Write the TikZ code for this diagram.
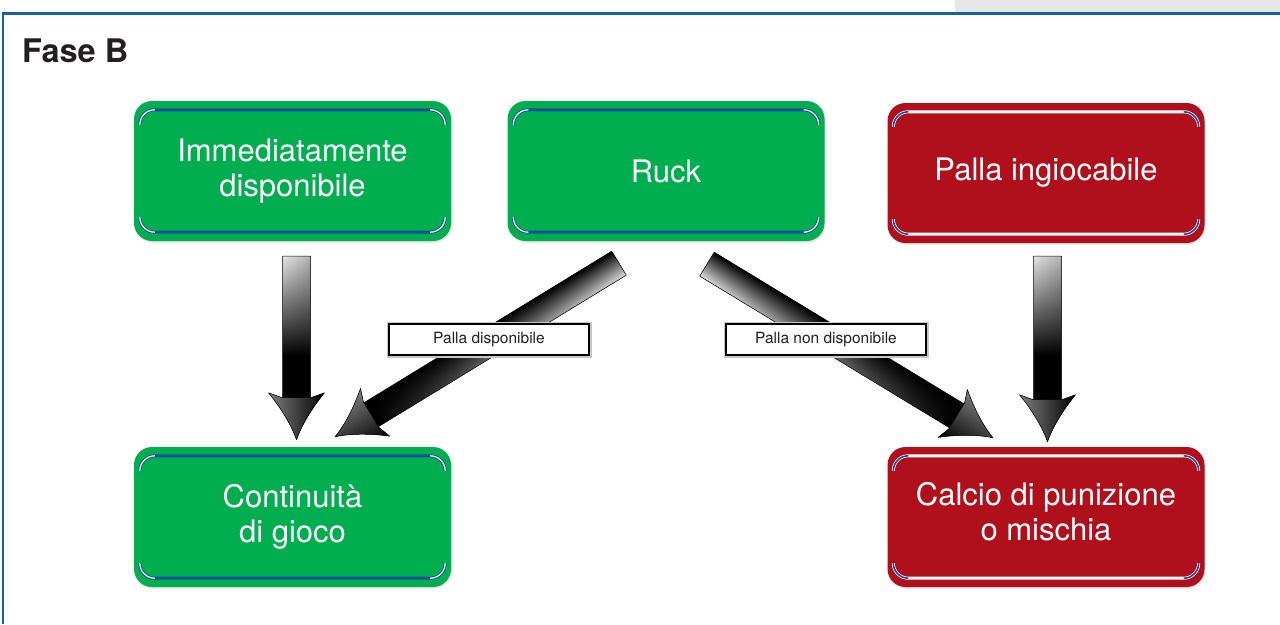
\documentclass[tikz,border=0pt]{standalone}
\usepackage{fontspec}
\setmainfont{TeX Gyre Heros}
\usetikzlibrary{calc,shadows,fadings}

\definecolor{boxgreen}{HTML}{00AE50}
\definecolor{boxred}{HTML}{B0101C}
\definecolor{trimblue}{HTML}{1B4F9C}
\definecolor{frameblue}{HTML}{1660A6}
\definecolor{tabgray}{HTML}{E6E7E8}
\definecolor{ink}{HTML}{231F20}

% tail highlight of an arrow shaft: opaque at the tail, gone half way along the patch
\tikzfading[name=tailfade, left color=transparent!0, middle color=transparent!100, right color=transparent!100]

\tikzset{
  card/.style={minimum width=317pt, minimum height=140pt, rounded corners=18pt,
    text=white, align=center, inner sep=0pt, font=\fontsize{31}{35}\selectfont,
    drop shadow={shadow xshift=1pt, shadow yshift=-1.5pt, opacity=0.22}},
  gocard/.style={card, fill=boxgreen},
  stopcard/.style={card, fill=boxred},
  tag/.style={draw=black, line width=1.4pt, fill=white, minimum width=200pt,
    minimum height=31pt, inner sep=0pt, text=ink, font=\fontsize{15.5}{18}\selectfont,
    preaction={draw=black!22, line width=5pt}},
}

% inner trim of a card: straight rule along top and bottom with rounded ends
\newcommand\trimpath[1]{%
  ($(#1.north west)+(6,24)$) .. controls +(0,-8.3) and +(-8.3,0) .. ($(#1.north west)+(21,9)$)
  -- ($(#1.north east)+(-21,9)$) .. controls +(8.3,0) and +(0,-8.3) .. ($(#1.north east)+(-6,24)$)
  ($(#1.south west)+(6,-24)$) .. controls +(0,8.3) and +(-8.3,0) .. ($(#1.south west)+(21,-9)$)
  -- ($(#1.south east)+(-21,-9)$) .. controls +(8.3,0) and +(0,8.3) .. ($(#1.south east)+(-6,-24)$)}
\newcommand\trimarcs[1]{%
  ($(#1.north west)+(6,24)$) .. controls +(0,-8.3) and +(-8.3,0) .. ($(#1.north west)+(21,9)$)
  ($(#1.north east)+(-21,9)$) .. controls +(8.3,0) and +(0,-8.3) .. ($(#1.north east)+(-6,24)$)
  ($(#1.south west)+(6,-24)$) .. controls +(0,8.3) and +(-8.3,0) .. ($(#1.south west)+(21,-9)$)
  ($(#1.south east)+(-21,-9)$) .. controls +(8.3,0) and +(0,8.3) .. ($(#1.south east)+(-6,-24)$)}
\newcommand\cardtrim[5]{% node, rule colour, rule width, arc colour, arc width
  \draw[#2, line width=#3] \trimpath{#1};
  \draw[#4, line width=#5] \trimarcs{#1};}

% broad shaded arrow from tail #1 to tip #2, drawn in its own frame
% (u along the arrow, v to its left); #3 shaft highlight, #4 its length, #5 head shading
\newcommand\headpath{({\fl-42},14) -- ({\fl-47},28) .. controls ({\fl-30},14) and ({\fl-12},4) .. ({\fl},0)
  .. controls ({\fl-12},-4) and ({\fl-30},-14) .. ({\fl-47},-28) -- ({\fl-42},-14)}
\newcommand\fatarrow[5]{%
  \path let \p1=(#1), \p2=(#2), \n1={atan2(\y2-\y1,\x2-\x1)}, \n2={veclen(\x2-\x1,\y2-\y1)} in
    \pgfextra{\xdef\fa{\n1}\xdef\fl{\n2}\xdef\fx{\x1}\xdef\fy{\y1}};
  \begin{scope}[x=1pt, y=1pt, transform canvas={shift={(\fx,\fy)}, rotate=\fa}]
    \fill[black] (0,14) -- \headpath -- (0,-14) -- cycle;
    \shade[#3, path fading=tailfade] (0,14) rectangle (#4,-14);
    \shade[#5] \headpath -- cycle;
    \draw[black, line width=0.5pt, line join=round] (0,14) -- \headpath -- (0,-14) -- cycle;
  \end{scope}}

\begin{document}
\begin{tikzpicture}[x=1pt, y=-1pt]
  \useasboundingbox (0,0) rectangle (1280,624);
  \fill[white] (0,0) rectangle (1280,624);

  % page frame
  \fill[tabgray] (955,0) rectangle (1280,12);
  \draw[frameblue, line width=2.5pt] (3,624) -- (3,13.5) -- (1280,13.5);
  \node[anchor=base west, inner sep=0pt, text=ink, font=\bfseries\fontsize{32.5}{36}\selectfont] (title) at (22,62) {Fase B};

  % cards
  \node[gocard] (imm) at (292.5,171) {Immediatamente\\disponibile};
  \node[gocard] (ruck) at (666,171) {Ruck};
  \node[stopcard] (ingioc) at (1046,173) {Palla ingiocabile};
  \node[gocard] (cont) at (292.5,517) {Continuità\\ di gioco};
  \node[stopcard, text depth=12pt] (calcio) at (1046,517) {Calcio di punizione\\o mischia};

  \cardtrim{imm}{trimblue}{3pt}{white}{1.2pt}
  \cardtrim{ruck}{trimblue}{3pt}{white}{1.2pt}
  \cardtrim{cont}{trimblue}{3pt}{white}{1.2pt}
  \cardtrim{ingioc}{white}{3pt}{trimblue}{1.6pt}
  \cardtrim{calcio}{white}{3pt}{trimblue}{1.6pt}

  % arrow ends
  \coordinate (a1t) at ($(imm.south)+(4,15)$);
  \coordinate (a1h) at ($(cont.north)+(4,-7)$);
  \coordinate (a2t) at ($(ruck.south)+(-47,22)$);
  \coordinate (a2h) at ($(cont.north)+(42.5,-10)$);
  \coordinate (a3t) at ($(ruck.south)+(41,23)$);
  \coordinate (a3h) at ($(calcio.north)+(-53,-9)$);
  \coordinate (a4t) at ($(ingioc.south)+(1.5,13)$);
  \coordinate (a4h) at ($(calcio.north)+(1.5,-5)$);

  \fatarrow{a1t}{a1h}{top color=black!30, bottom color=black!10}{100}{top color=black, bottom color=black!50}
  \fatarrow{a2t}{a2h}{top color=black!12, bottom color=black}{{\fl-42}}{top color=black, bottom color=black!50}
  \fatarrow{a3t}{a3h}{top color=black, bottom color=black!12}{{\fl-42}}{top color=black!50, bottom color=black}
  \fatarrow{a4t}{a4h}{top color=black!30, bottom color=black!10}{100}{top color=black, bottom color=black!50}

  % arrow labels
  \node[tag] (lbl1) at (489,339.5) {Palla disponibile};
  \node[tag] (lbl2) at (826,339.5) {Palla non disponibile};
\end{tikzpicture}
\end{document}
